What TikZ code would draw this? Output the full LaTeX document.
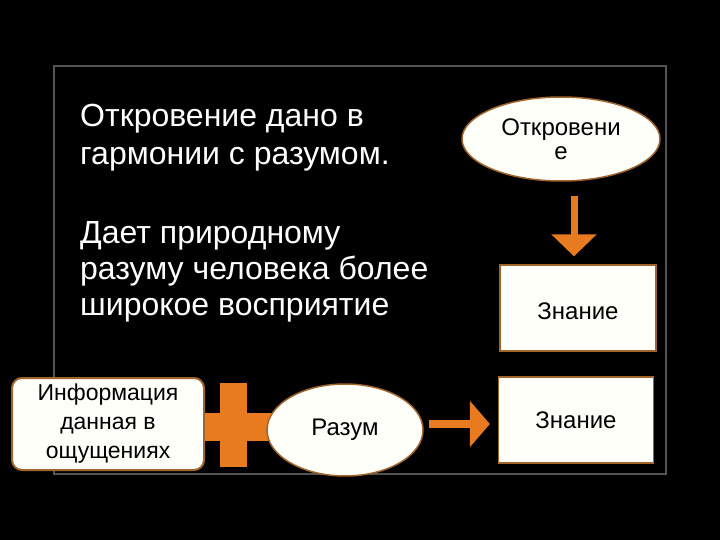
\documentclass[tikz,border=0pt]{standalone}
\usepackage{fontspec}
\setmainfont{Liberation Sans}
\definecolor{slideorange}{RGB}{232,122,32}
\definecolor{boxedge}{RGB}{160,100,45}
\definecolor{framegray}{gray}{0.33}
\definecolor{boxfill}{RGB}{255,255,250}
\usepackage{tikz}
\usetikzlibrary{arrows.meta,positioning,calc,shapes.geometric}
\tikzset{
  bigtxt/.style={text=white,align=left,anchor=north west,inner sep=0pt,font=\fontsize{32}{38}\selectfont},
  ovalbox/.style={ellipse,draw=boxedge,line width=1.5pt,fill=boxfill,inner sep=0pt,align=center,font=\fontsize{24}{24}\selectfont},
  knowbox/.style={rectangle,draw=boxedge,line width=1.2pt,fill=boxfill,inner sep=0pt,font=\fontsize{24}{29}\selectfont},
  infobox/.style={rectangle,rounded corners=10pt,draw=boxedge,line width=2pt,fill=boxfill,inner sep=0pt,align=center,font=\fontsize{23}{29}\selectfont},
  blockarr/.style={slideorange,line width=7pt,-{Triangle[width=44pt,length=22pt]}},
  plusbar/.style={fill=slideorange},
}

\begin{document}
\begin{tikzpicture}[x=1pt,y=-1pt]
        \fill[black] (0,0) rectangle (720,540);
        \useasboundingbox (0,0) rectangle (720,540);
        \draw[framegray,line width=2pt] (54,66) rectangle (666,474);
        % текст слева
        \node[bigtxt] (dano) at (80,104) {Откровение дано в\\гармонии с разумом.};
        \node[bigtxt,font=\fontsize{32}{36}\selectfont] (daet) at (80,221)
              {Дает природному\\разуму человека более\\широкое восприятие};
        % знак плюс
        \fill[plusbar] (220,383) rectangle (247,467);
        \fill[plusbar] (196,413) rectangle (272,441);
        % правая колонка
        \node[ovalbox,minimum width=198pt,minimum height=84pt] (otkr) at (561,139) {Откровени\\е};
        \node[knowbox,minimum width=156pt,minimum height=86pt,text height=23pt,text depth=0pt] (zn1) at (578,308) {Знание};
        % нижний ряд
        \node[infobox,minimum width=192pt,minimum height=92pt] (info) at (108,424)
              {Информация\\данная в\\ощущениях};
        \node[ovalbox,minimum width=156pt,minimum height=92pt] (razum) at (345,430) {Разум};
        \node[knowbox,minimum width=155pt,minimum height=86pt] (zn2) at (576,420) {Знание};
        % стрелки
        \draw[blockarr,shorten <=14pt,shorten >=8pt]
              ($(otkr.south -| zn1.north)+(-4,0)$) -- ($(zn1.north)+(-4,0)$);
        \draw[blockarr,line width=8pt,-{Triangle[width=45pt,length=20pt]},shorten <=5pt,shorten >=8pt]
              ($(razum.east)+(0,-6)$) -- ($(razum.east -| zn2.west)+(0,-6)$);
\end{tikzpicture}
\end{document}
